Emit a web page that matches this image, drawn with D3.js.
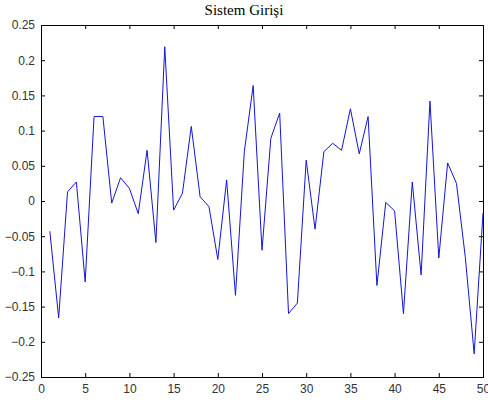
<!DOCTYPE html>
<html>
<head>
<meta charset="utf-8">
<script src="https://cdn.jsdelivr.net/npm/d3@7"></script>
<style>
  body { margin: 0; background: #fff; }
  svg { display: block; }
</style>
</head>
<body>
<div id="chart"></div>
<script>
// sample index and input signal values
const samples = d3.range(1, 51);
const values = [
  -0.043, -0.166, 0.013, 0.027, -0.115, 0.120, 0.120, -0.003, 0.033, 0.018,
  -0.018, 0.072, -0.059, 0.219, -0.013, 0.011, 0.106, 0.006, -0.008, -0.083,
  0.030, -0.134, 0.070, 0.164, -0.070, 0.089, 0.125, -0.160, -0.145, 0.058,
  -0.040, 0.070, 0.082, 0.072, 0.131, 0.067, 0.120, -0.120, -0.002, -0.014,
  -0.160, 0.027, -0.105, 0.142, -0.081, 0.054, 0.025, -0.080, -0.217, -0.017
];
const xTicks = [0, 5, 10, 15, 20, 25, 30, 35, 40, 45, 50];
const yTicks = [-0.25, -0.2, -0.15, -0.1, -0.05, 0, 0.05, 0.1, 0.15, 0.2, 0.25];
const title = "Sistem Girişi";

const width = 488, height = 403;
const margin = { top: 25, right: 5, bottom: 26, left: 41 };

const svg = d3.select("#chart").append("svg")
  .attr("width", width)
  .attr("height", height);

const x = d3.scaleLinear().domain([0, 50]).range([margin.left, width - margin.right]);
const y = d3.scaleLinear().domain([-0.25, 0.25]).range([height - margin.bottom, margin.top]);

const tickFmt = d => d3.format("")(d);
const axisFont = g => g.selectAll("text")
  .attr("font-family", "Liberation Sans, Arial, sans-serif")
  .attr("font-size", 12)
  .attr("fill", "#333");

// bottom axis
svg.append("g")
  .attr("transform", `translate(0,${y(-0.25)})`)
  .call(d3.axisBottom(x).tickValues(xTicks).tickSizeInner(-4).tickSizeOuter(0).tickPadding(7))
  .call(g => g.select(".domain").remove())
  .call(axisFont);

// top ticks
svg.append("g")
  .attr("transform", `translate(0,${y(0.25)})`)
  .call(d3.axisTop(x).tickValues(xTicks).tickSizeInner(-4).tickSizeOuter(0).tickFormat(""))
  .call(g => g.select(".domain").remove());

// left axis
svg.append("g")
  .attr("transform", `translate(${x(0)},0)`)
  .call(d3.axisLeft(y).tickValues(yTicks).tickSizeInner(-4).tickSizeOuter(0).tickPadding(6).tickFormat(tickFmt))
  .call(g => g.select(".domain").remove())
  .call(axisFont);

// right ticks
svg.append("g")
  .attr("transform", `translate(${x(50)},0)`)
  .call(d3.axisRight(y).tickValues(yTicks).tickSizeInner(-4).tickSizeOuter(0).tickFormat(""))
  .call(g => g.select(".domain").remove());

svg.selectAll(".tick line").attr("stroke", "#000");

// box
svg.append("rect")
  .attr("x", x(0) + 0.5)
  .attr("y", y(0.25) + 0.5)
  .attr("width", x(50) - x(0))
  .attr("height", y(-0.25) - y(0.25))
  .attr("fill", "none")
  .attr("stroke", "#000");

// signal line
const line = d3.line()
  .x((d, i) => x(samples[i]))
  .y(d => y(d));

svg.append("path")
  .datum(values)
  .attr("fill", "none")
  .attr("stroke", "#1414d8")
  .attr("stroke-width", 1)
  .attr("d", line);

// title
svg.append("text")
  .attr("x", 244)
  .attr("y", 15)
  .attr("text-anchor", "middle")
  .attr("font-family", "Liberation Serif, Times New Roman, serif")
  .attr("font-size", 15)
  .attr("fill", "#000")
  .text(title);
</script>
</body>
</html>
